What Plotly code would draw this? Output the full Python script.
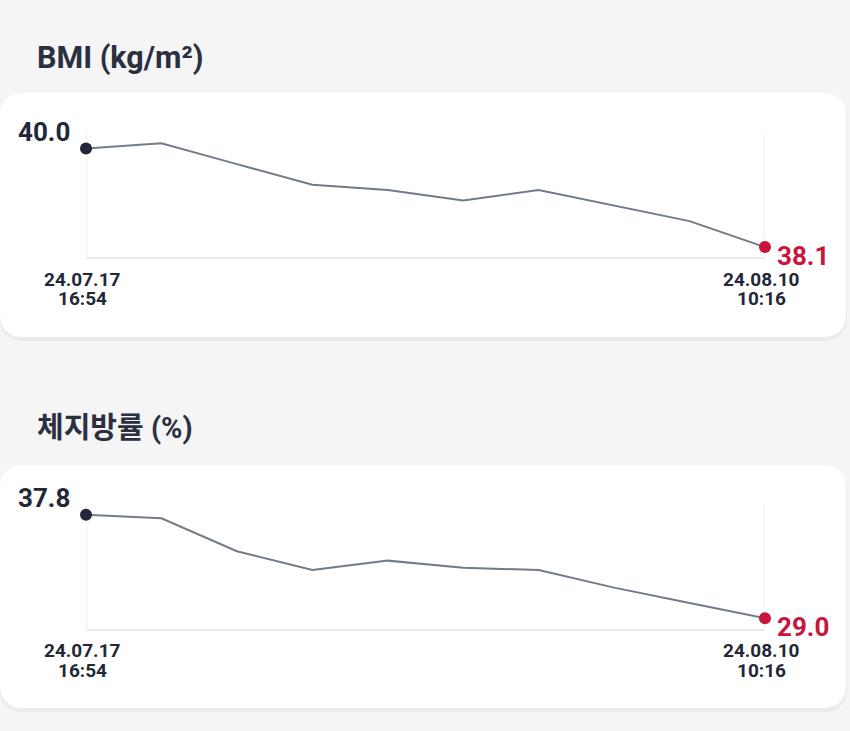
import plotly.graph_objects as go

# ---------------- data ----------------
points = list(range(10))
bmi_values = [40.0, 40.1, 39.7, 39.3, 39.2, 39.0, 39.2, 38.9, 38.6, 38.1]
fat_values = [37.8, 37.5, 34.7, 33.1, 33.9, 33.3, 33.1, 31.6, 30.3, 29.0]
first_stamp = ["24.07.17", "16:54"]
last_stamp = ["24.08.10", "10:16"]
titles = ["BMI (kg/m²)", "체지방률 (%)"]

W, H = 850, 731
FONT = "Roboto, 'Noto Sans CJK KR', sans-serif"
DARK = "#232838"
RED = "#c8163c"
LINE = "#737b89"
GRID = "#ececee"
BG = "#f5f5f6"


def px_x(x):
    return x / W


def px_y(y):
    return 1 - y / H


def rounded_rect(x0, y0, x1, y1, r):
    rx, ry = r / W, r / H
    X0, X1 = px_x(x0), px_x(x1)
    Y0, Y1 = px_y(y0), px_y(y1)  # Y0 top (larger), Y1 bottom
    return (f"M {X0+rx},{Y0} L {X1-rx},{Y0} Q {X1},{Y0} {X1},{Y0-ry} "
            f"L {X1},{Y1+ry} Q {X1},{Y1} {X1-rx},{Y1} L {X0+rx},{Y1} "
            f"Q {X0},{Y1} {X0},{Y1+ry} L {X0},{Y0-ry} Q {X0},{Y0} {X0+rx},{Y0} Z")


fig = go.Figure()

panels = [
    dict(values=bmi_values, title=titles[0], tsize=30.5, ydom=(133, 257.4), card=(93, 337), title_y=58),
    dict(values=fat_values, title=titles[1], tsize=29, ydom=(504.5, 628.5), card=(465, 708), title_y=428),
]

shapes = []
annotations = []
for i, p in enumerate(panels):
    n = "" if i == 0 else str(i + 1)
    xa, ya = "x" + n, "y" + n
    vals = p["values"]
    vmin, vmax = min(vals), max(vals)
    pad = (vmax - vmin) * 0.1
    # cards
    c0, c1 = p["card"]
    shapes.append(dict(type="path", xref="paper", yref="paper",
                       path=rounded_rect(0, c0 + 3, 847, c1 + 4, 24),
                       fillcolor="#ebebed", line=dict(width=0), layer="below"))
    shapes.append(dict(type="path", xref="paper", yref="paper",
                       path=rounded_rect(0, c0, 846, c1, 24),
                       fillcolor="#ffffff", line=dict(width=0), layer="below"))
    # vertical guide lines at first and last measurement
    for xv in (points[0], points[-1]):
        shapes.append(dict(type="line", xref=xa, yref=ya + " domain", x0=xv, x1=xv,
                           y0=0, y1=1, line=dict(color=GRID, width=1.5), layer="below"))

    fig.add_trace(go.Scatter(x=points, y=vals, mode="lines", xaxis=xa, yaxis=ya,
                             line=dict(color=LINE, width=2), hoverinfo="skip",
                             showlegend=False, cliponaxis=False))
    fig.add_trace(go.Scatter(x=[points[0]], y=[vals[0]], mode="markers", xaxis=xa, yaxis=ya,
                             marker=dict(color=DARK, size=12), showlegend=False,
                             cliponaxis=False))
    fig.add_trace(go.Scatter(x=[points[-1]], y=[vals[-1]], mode="markers", xaxis=xa, yaxis=ya,
                             marker=dict(color=RED, size=12), showlegend=False,
                             cliponaxis=False))

    ax_common = dict(showticklabels=False, ticks="", zeroline=False)
    fig.update_layout(**{
        "xaxis" + n: dict(domain=[86 / W, 765 / W], range=[points[0], points[-1]],
                          showgrid=False, showline=True, linecolor=GRID, linewidth=1.5,
                          anchor=ya, **ax_common),
        "yaxis" + n: dict(domain=[px_y(p["ydom"][1]), px_y(p["ydom"][0])],
                          range=[vmin - pad, vmax + pad], showgrid=False, showline=False,
                          anchor=xa, **ax_common),
    })

    # title
    annotations.append(dict(xref="paper", yref="paper", x=px_x(35), y=px_y(p["title_y"]),
                            xanchor="left", yanchor="middle", showarrow=False,
                            text=f"<b>{p['title']}</b>",
                            font=dict(family=FONT, size=p["tsize"], color="#2b3040")))
    # value labels
    annotations.append(dict(xref=xa, yref=ya, x=points[0], y=vals[0], xanchor="right",
                            yanchor="middle", xshift=-14, yshift=17, showarrow=False,
                            text=f"<b>{vals[0]:.1f}</b>",
                            font=dict(family=FONT, size=26, color=DARK)))
    annotations.append(dict(xref=xa, yref=ya, x=points[-1], y=vals[-1], xanchor="left",
                            yanchor="middle", xshift=10, yshift=-9, showarrow=False,
                            text=f"<b>{vals[-1]:.1f}</b>",
                            font=dict(family=FONT, size=26, color=RED)))
    # date stamps
    for xv, stamp in ((points[0], first_stamp), (points[-1], last_stamp)):
        for k, line_txt in enumerate(stamp):
            annotations.append(dict(xref=xa, yref=ya + " domain", x=xv, y=0,
                                    xanchor="center", yanchor="middle", xshift=-4,
                                    yshift=-22 - 19.5 * k, showarrow=False,
                                    text=f"<b>{line_txt}</b>",
                                    font=dict(family=FONT, size=19, color=DARK)))

fig.update_layout(width=W, height=H, margin=dict(l=0, r=0, t=0, b=0),
                  paper_bgcolor=BG, plot_bgcolor="rgba(0,0,0,0)",
                  shapes=shapes, annotations=annotations, showlegend=False,
                  font=dict(family=FONT))

fig.write_html("out.html")
